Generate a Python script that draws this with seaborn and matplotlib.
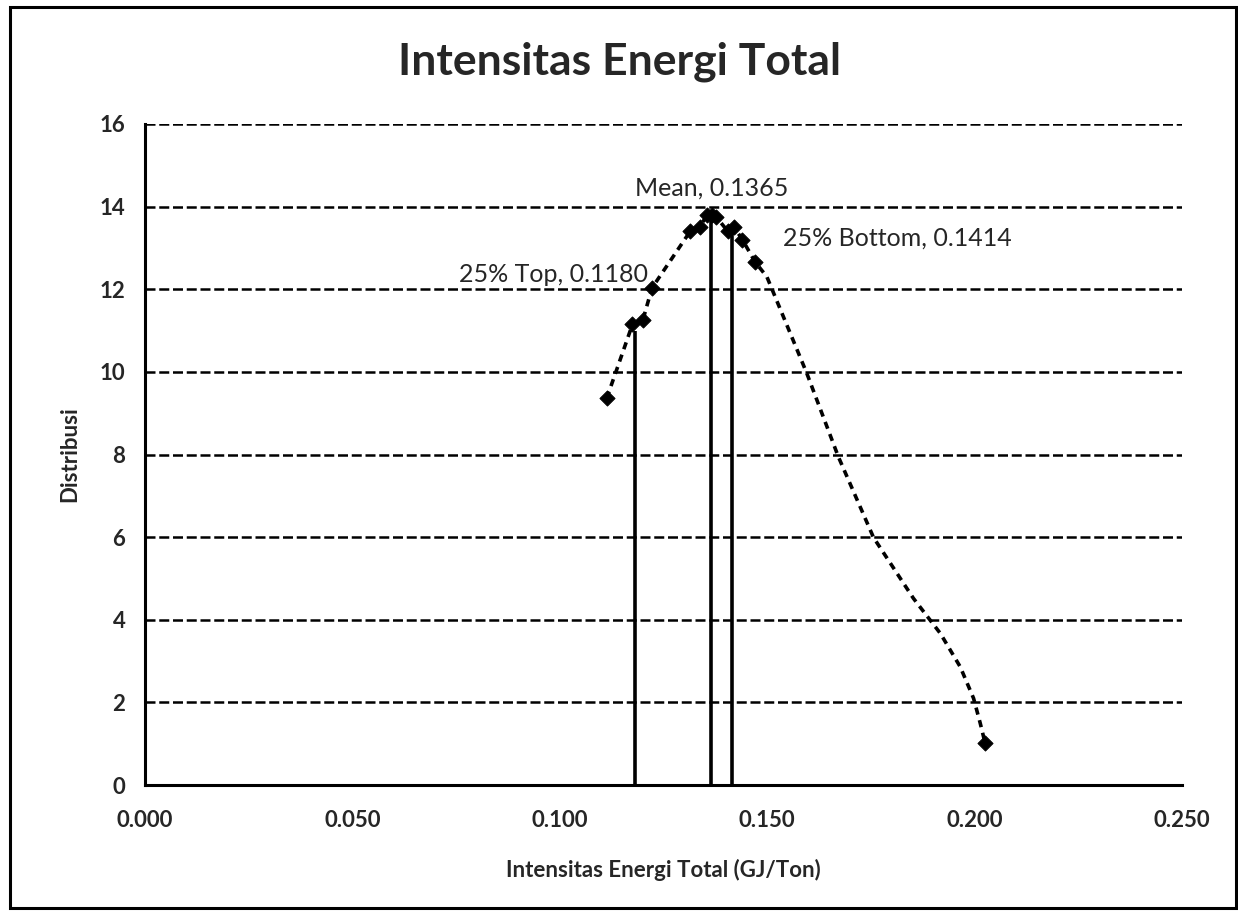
import matplotlib
matplotlib.use("Agg")
import matplotlib.pyplot as plt
import seaborn as sns
import pandas as pd
from matplotlib.patches import Rectangle

# data points (markers)
pts_x = [0.1113, 0.1175, 0.1200, 0.1222, 0.1314, 0.1338, 0.1354, 0.1366, 0.1377,
         0.1405, 0.1420, 0.1440, 0.1470, 0.2025]
pts_y = [9.36, 11.15, 11.25, 12.03, 13.40, 13.50, 13.80, 13.80, 13.75,
         13.40, 13.50, 13.20, 12.67, 1.01]

# trace of the smoothed dashed curve on the falling side
trace_x = [0.1499, 0.1595, 0.1671, 0.1756, 0.1852, 0.1917, 0.1965, 0.1997, 0.2013]
trace_y = [12.30, 9.97, 7.95, 5.99, 4.52, 3.67, 2.86, 2.10, 1.50]

# reference lines (quartiles and mean)
ref_names = ["25% Top", "Mean", "25% Bottom"]
ref_x = [0.1180, 0.1365, 0.1414]
ref_top = [11.0, 13.8, 13.55]

x_ticks = [0.000, 0.050, 0.100, 0.150, 0.200, 0.250]
y_ticks = [0, 2, 4, 6, 8, 10, 12, 14, 16]

sns.set_style("white")
plt.rcParams["font.family"] = ["Lato", "DejaVu Sans"]

pts = pd.DataFrame({"x": pts_x, "y": pts_y})
curve = pd.concat([pts, pd.DataFrame({"x": trace_x, "y": trace_y})]).sort_values("x")

fig = plt.figure(figsize=(12.38, 9.15), dpi=100)
ax = fig.add_axes([0.117, 0.142, 0.838, 0.7225])

ax.set_xlim(0, 0.25)
ax.set_ylim(0, 16)
ax.set_xticks(x_ticks)
ax.set_yticks(y_ticks)
ax.set_xticklabels([f"{v:.3f}" for v in x_ticks])
ax.set_yticklabels([str(v) for v in y_ticks])
for lbl in ax.get_xticklabels() + ax.get_yticklabels():
    lbl.set_fontweight("bold")
    lbl.set_fontsize(16)
ax.tick_params(axis="x", length=0, pad=18)
ax.tick_params(axis="y", length=0, pad=14)

for v in y_ticks[1:]:
    ax.axhline(v, color="black", lw=1.8, ls=(0, (4, 1.5)), zorder=1)

for side in ["top", "right"]:
    ax.spines[side].set_visible(False)
for side in ["left", "bottom"]:
    ax.spines[side].set_color("black")
    ax.spines[side].set_linewidth(2.2)

sns.lineplot(data=curve, x="x", y="y", sort=False, ax=ax, color="black",
             lw=2.6, linestyle=(0, (2, 1.6)), estimator=None, zorder=3)
sns.scatterplot(data=pts, x="x", y="y", ax=ax, marker="D", s=60,
                color="black", edgecolor="black", zorder=4)

ax.vlines(ref_x, 0, ref_top, color="black", lw=2.6, zorder=2)

ax.text(ref_x[1], 14.45, f"{ref_names[1]}, {ref_x[1]:.4f}", ha="center", va="center", fontsize=18)
ax.text(0.1212, 12.35, f"{ref_names[0]}, {ref_x[0]:.4f}", ha="right", va="center", fontsize=18)
ax.text(0.1538, 13.24, f"{ref_names[2]}, {ref_x[2]:.4f}", ha="left", va="center", fontsize=18)

ax.set_xlabel("Intensitas Energi Total (GJ/Ton)", fontsize=16, fontweight="bold", labelpad=20)
ax.set_ylabel("Distribusi", fontsize=16, fontweight="bold", labelpad=14)
fig.suptitle("Intensitas Energi Total", fontsize=32, fontweight="bold", y=0.955)

fig.patches.append(Rectangle((0.008, 0.008), 0.99, 0.984, transform=fig.transFigure,
                             fill=False, edgecolor="black", lw=2.2))

fig.savefig("out.png", dpi=100, facecolor="white")
